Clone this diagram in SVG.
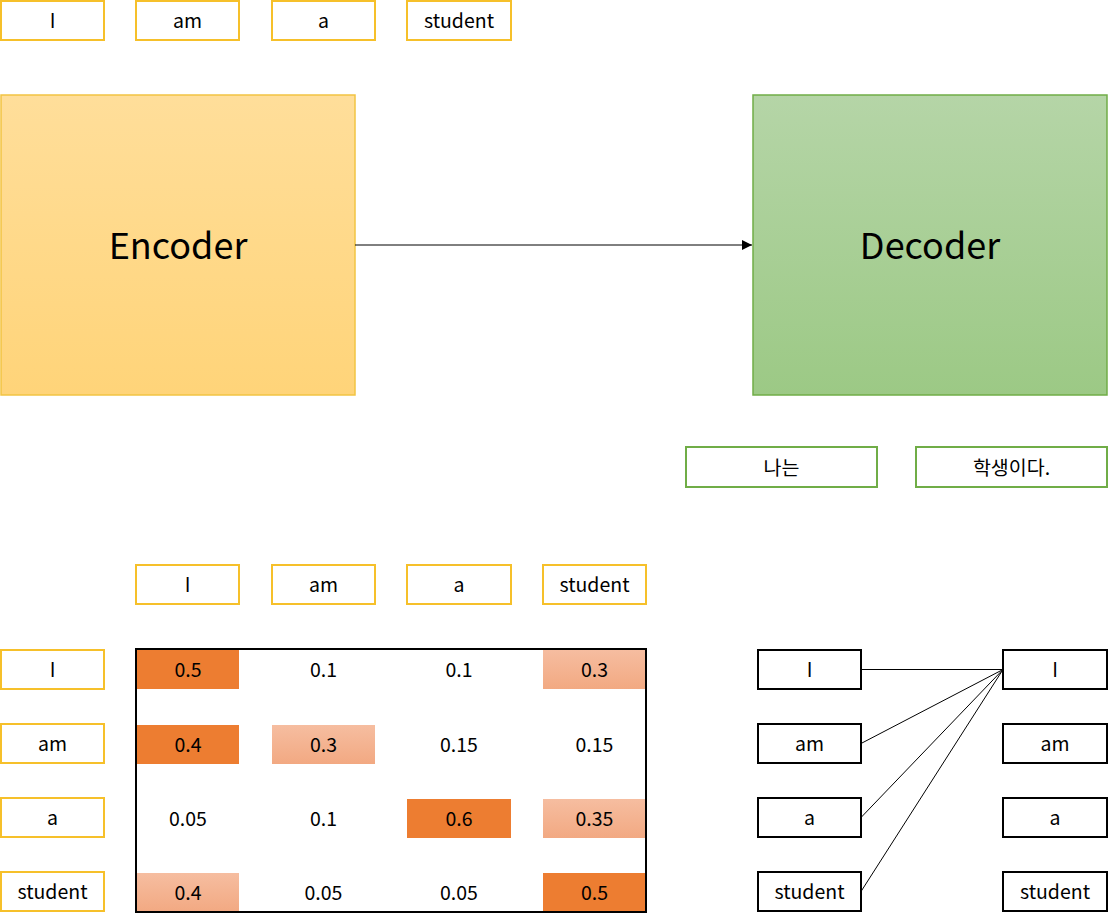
<svg xmlns="http://www.w3.org/2000/svg" width="1108" height="918" viewBox="0 0 1108 918">
<defs>
<linearGradient id="gEnc" x1="0" y1="0" x2="0" y2="1"><stop offset="0" stop-color="#FFDE9A"/><stop offset="1" stop-color="#FFD479"/></linearGradient>
<linearGradient id="gDec" x1="0" y1="0" x2="0" y2="1"><stop offset="0" stop-color="#B5D5A7"/><stop offset="1" stop-color="#9CC985"/></linearGradient>
<linearGradient id="gLight" x1="0" y1="0" x2="0" y2="1"><stop offset="0" stop-color="#F6BDA0"/><stop offset="1" stop-color="#F2A982"/></linearGradient>
<marker id="arr" viewBox="0 0 10 10" refX="10" refY="5" markerWidth="10" markerHeight="10" markerUnits="userSpaceOnUse" orient="auto"><path d="M0,0 L10,5 L0,10 z" fill="#000"/></marker>
</defs>
<style>
text{font-family:"Noto Sans CJK KR","Open Sans",sans-serif;font-size:19.5px;fill:#000;text-anchor:middle;dominant-baseline:central}
.y{fill:#fff;stroke:#F6C02A;stroke-width:2}
.g{fill:#fff;stroke:#70AD47;stroke-width:2}
.k{fill:#fff;stroke:#000;stroke-width:2}
.big{font-size:36px}
.hi{fill:#ED7D31}
.lo{fill:url(#gLight)}
</style>
<rect width="1108" height="918" fill="#fff"/>
<g id="top-tokens">
<g id="t-I"><rect class="y" x="1" y="1" width="103" height="39"/><text x="52.5" y="19">I</text></g>
<g id="t-am"><rect class="y" x="136" y="1" width="103" height="39"/><text x="187.5" y="19">am</text></g>
<g id="t-a"><rect class="y" x="272" y="1" width="103" height="39"/><text x="323.5" y="19">a</text></g>
<g id="t-student"><rect class="y" x="407" y="1" width="104" height="39"/><text x="459" y="19">student</text></g>
</g>
<g id="encoder"><rect x="1" y="95" width="354" height="300" fill="url(#gEnc)" stroke="#F2C443" stroke-width="1.5"/><text class="big" x="178" y="243">Encoder</text></g>
<g id="decoder"><rect x="753" y="95" width="354" height="300" fill="url(#gDec)" stroke="#70AD47" stroke-width="1.5"/><text class="big" x="930" y="243">Decoder</text></g>
<g id="kr-tokens">
<g id="k1"><rect class="g" x="686" y="447" width="191" height="40"/><text x="781.5" y="466">나는</text></g>
<g id="k2"><rect class="g" x="916" y="447" width="191" height="40"/><text x="1011.5" y="466">학생이다.</text></g>
</g>
<g id="col-headers">
<g id="h-I"><rect class="y" x="136" y="565" width="103" height="39"/><text x="187.5" y="583">I</text></g>
<g id="h-am"><rect class="y" x="272" y="565" width="103" height="39"/><text x="323.5" y="583">am</text></g>
<g id="h-a"><rect class="y" x="407" y="565" width="104" height="39"/><text x="459" y="583">a</text></g>
<g id="h-student"><rect class="y" x="543" y="565" width="103" height="39"/><text x="594.5" y="583">student</text></g>
</g>
<g id="row-headers">
<g id="r-I"><rect class="y" x="1" y="650" width="103" height="39"/><text x="52.5" y="668">I</text></g>
<g id="r-am"><rect class="y" x="1" y="724" width="103" height="39"/><text x="52.5" y="742">am</text></g>
<g id="r-a"><rect class="y" x="1" y="798" width="103" height="39"/><text x="52.5" y="816">a</text></g>
<g id="r-student"><rect class="y" x="1" y="872" width="103" height="39"/><text x="52.5" y="890">student</text></g>
</g>
<g id="matrix">
<rect class="hi" x="137" y="650" width="102" height="39"/>
<rect class="lo" x="543" y="650" width="102" height="39"/>
<rect class="hi" x="137" y="725" width="102" height="39"/>
<rect class="lo" x="272" y="725" width="103" height="39"/>
<rect class="hi" x="407" y="799" width="104" height="39"/>
<rect class="lo" x="543" y="799" width="102" height="39"/>
<rect class="lo" x="137" y="873" width="102" height="39"/>
<rect class="hi" x="543" y="873" width="102" height="39"/>
<rect x="136" y="649" width="510" height="263" fill="none" stroke="#000" stroke-width="2"/>
<text x="188" y="668">0.5</text><text x="323.5" y="668">0.1</text><text x="459" y="668">0.1</text><text x="594.5" y="668">0.3</text>
<text x="188" y="743">0.4</text><text x="323.5" y="743">0.3</text><text x="459" y="743">0.15</text><text x="594.5" y="743">0.15</text>
<text x="188" y="817">0.05</text><text x="323.5" y="817">0.1</text><text x="459" y="817">0.6</text><text x="594.5" y="817">0.35</text>
<text x="188" y="891">0.4</text><text x="323.5" y="891">0.05</text><text x="459" y="891">0.05</text><text x="594.5" y="891">0.5</text>
</g>
<g id="src-list">
<g id="s-I"><rect class="k" x="758" y="650" width="103" height="39"/><text x="809.5" y="668">I</text></g>
<g id="s-am"><rect class="k" x="758" y="724" width="103" height="39"/><text x="809.5" y="742">am</text></g>
<g id="s-a"><rect class="k" x="758" y="798" width="103" height="39"/><text x="809.5" y="816">a</text></g>
<g id="s-student"><rect class="k" x="758" y="872" width="103" height="39"/><text x="809.5" y="890">student</text></g>
</g>
<g id="dst-list">
<g id="d-I"><rect class="k" x="1003" y="650" width="104" height="39"/><text x="1055" y="668">I</text></g>
<g id="d-am"><rect class="k" x="1003" y="724" width="104" height="39"/><text x="1055" y="742">am</text></g>
<g id="d-a"><rect class="k" x="1003" y="798" width="104" height="39"/><text x="1055" y="816">a</text></g>
<g id="d-student"><rect class="k" x="1003" y="872" width="104" height="39"/><text x="1055" y="890">student</text></g>
</g>
<g id="connectors" stroke="#000" stroke-width="1" fill="none">
<line x1="355" y1="245" x2="752" y2="245" marker-end="url(#arr)"/>
<line x1="861" y1="669.5" x2="1003" y2="669.5"/>
<line x1="861" y1="743.5" x2="1003" y2="669.5"/>
<line x1="861" y1="817.5" x2="1003" y2="669.5"/>
<line x1="861" y1="891.5" x2="1003" y2="669.5"/>
</g>
</svg>
